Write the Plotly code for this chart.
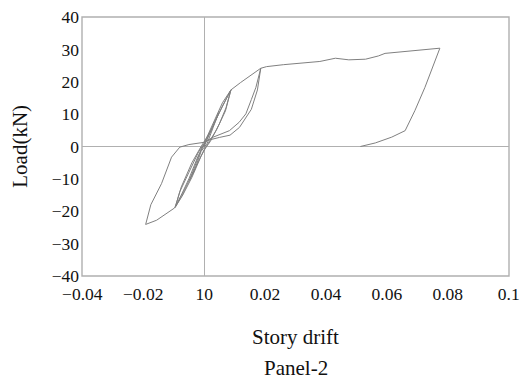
import plotly.graph_objects as go

# Hysteresis path (story drift, load in kN)
drift = [0, 0.002, 0.0048, 0.003, 0.001, -0.001, -0.003, -0.0048, -0.003, -0.001, 0.0005,
         0.003, 0.006, 0.0088, 0.0072, 0.005, 0.002, 0.0, -0.002, -0.005, -0.0075, -0.0095,
         -0.008, -0.005, -0.002, 0.0,
         0.003, 0.006, 0.0088, 0.007, 0.004, 0.001, -0.001, -0.004, -0.007, -0.0095,
         -0.0075, -0.004, -0.001,
         0.002, 0.005, 0.0088, 0.012, 0.0155, 0.0186,
         0.0175, 0.0155, 0.0116, 0.0085, 0.005, 0.0007,
         -0.002, -0.005, -0.0075, -0.0097, -0.0156, -0.0192,
         -0.0175, -0.014, -0.0107, -0.008, -0.005, 0.0, 0.003, 0.0083, 0.0115, 0.0137,
         0.0155, 0.017, 0.0186,
         0.0205, 0.026, 0.0333, 0.038, 0.0431, 0.0475, 0.053, 0.0572, 0.0594, 0.0692, 0.0774,
         0.0725, 0.0692, 0.066, 0.0616, 0.0562, 0.0513]
load = [0, 4.5, 10.5, 6, 1, -1.5, -7, -10.5, -6, -1, 1.5,
        6.5, 12.5, 17.5, 12, 7, 1.5, -1, -5, -11, -15.5, -18.8,
        -14, -8, -2, 1,
        7, 13.5, 17.5, 11, 5, 0.5, -3, -9.5, -15, -18.8,
        -12.5, -5, 0,
        4.5, 10.5, 17.5, 19.8, 22, 24.2,
        17.5, 11.5, 5.9, 3.5, 2.8, 1.8,
        -3, -10, -15, -19, -22.8, -24.1,
        -18, -11.5, -3.3, -0.2, 0.6, 1.3, 2.9, 4.9, 7.5, 10.1,
        14.5, 18.3, 24.2,
        24.7, 25.3, 26.0, 26.3, 27.3, 26.8, 27.0, 28.0, 28.8, 29.7, 30.4,
        18.3, 11.1, 4.9, 2.9, 1.1, 0]

x_ticks = [-0.04, -0.02, 0, 0.02, 0.04, 0.06, 0.08, 0.1]
x_tick_text = ["\u22120.04", "\u22120.02", "10", "0.02", "0.04", "0.06", "0.08", "0.1"]
y_ticks = [-40, -30, -20, -10, 0, 10, 20, 30, 40]
y_tick_text = ["\u221240", "\u221230", "\u221220", "\u221210", "0", "10", "20", "30", "40"]

FONT = "Liberation Serif, Times New Roman, serif"

fig = go.Figure()
fig.add_trace(go.Scatter(x=drift, y=load, mode="lines",
                         line=dict(color="#808080", width=1),
                         showlegend=False, hoverinfo="skip"))

axis_common = dict(showgrid=False, zeroline=True, zerolinecolor="#b0b0b0", zerolinewidth=1.2,
                   showline=False, automargin=False, ticklabeloverflow="allow",
                   ticks="", tickfont=dict(family=FONT, size=17.5, color="#111"))

fig.update_xaxes(range=[-0.0401, 0.1001], tickvals=x_ticks, ticktext=x_tick_text,
                 ticklabelstandoff=5, **axis_common)
fig.update_yaxes(range=[-40.05, 40.05], tickvals=y_ticks, ticktext=y_tick_text,
                 ticklabelstandoff=2, **axis_common)

# plot-area frame
fig.add_shape(type="rect", xref="paper", yref="paper", x0=0, y0=0, x1=1, y1=1,
              line=dict(color="#b0b0b0", width=1.4), layer="below")

fig.update_layout(
    width=520, height=385,
    margin=dict(l=82, r=11, t=17, b=109),
    paper_bgcolor="white", plot_bgcolor="white",
    font=dict(family=FONT, color="#111"),
    annotations=[
        dict(text="Story drift", xref="paper", yref="paper", x=0.5, y=-0.235,
             yanchor="middle", xanchor="center", showarrow=False,
             font=dict(family=FONT, size=21, color="#111")),
        dict(text="Panel-2", xref="paper", yref="paper", x=0.5, y=-0.355,
             yanchor="middle", xanchor="center", showarrow=False,
             font=dict(family=FONT, size=21, color="#111")),
        dict(text="Load(kN)", xref="paper", yref="paper", x=-0.147, y=0.5,
             textangle=-90, yanchor="middle", xanchor="center", showarrow=False,
             font=dict(family=FONT, size=21, color="#111")),
    ],
)

fig.write_html("out.html", config={"displayModeBar": False},
               post_script="document.body.style.margin='0';document.body.style.overflow='hidden';")
